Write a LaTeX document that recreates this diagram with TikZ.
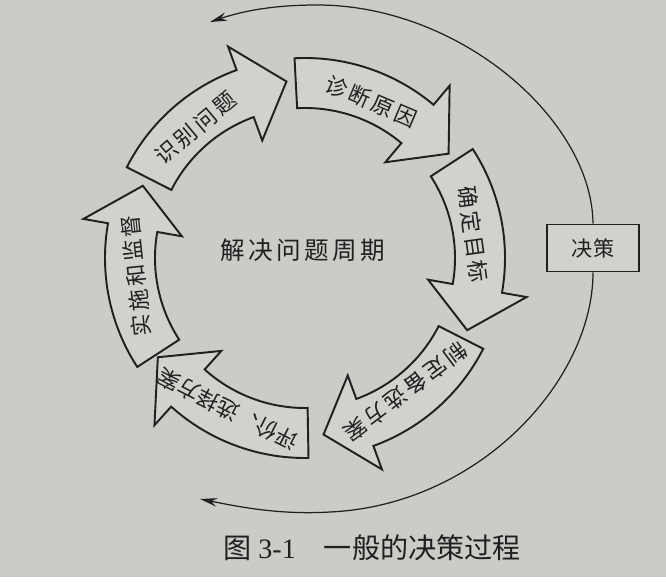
\documentclass[tikz,border=0pt]{standalone}
\usepackage{fontspec}
\setmainfont{Liberation Serif}
\newfontfamily\cjk{Noto Sans CJK SC}
\newfontfamily\cjkwide{Noto Sans CJK SC}[LetterSpace=14]
\usetikzlibrary{arrows.meta}

\definecolor{paper}{RGB}{203,203,200}
\definecolor{paperlight}{RGB}{209,209,206}
\definecolor{ink}{RGB}{32,32,32}

\begin{document}
\begin{tikzpicture}[
    ring/.style={draw=ink, line width=1.1pt, fill=paperlight, line join=miter},
    steplabel/.style={font=\cjkwide\fontsize{12.5}{14}\selectfont, text=ink, inner sep=0pt},
    decision/.style={rectangle, draw=ink, line width=1pt, fill=paperlight, minimum width=1.84cm, minimum height=0.94cm, font=\cjk\fontsize{12}{14}\selectfont, text=ink},
    backarrow/.style={-{Stealth[length=3.4mm, width=1.7mm]}, draw=ink, line width=0.7pt}
]

% --- Page ---
\fill[paper] (-6.1,-6.48) rectangle (7.22,5.16);
\fill[white] (-6.1,-6.48) rectangle (7.22,-6.38);
\useasboundingbox (-6.1,-6.48) rectangle (7.22,5.16);

% --- Cycle arrows ---

% Identify problem
\draw[ring] (153:4) arc[start angle=153, end angle=110, radius=4cm] -- (110:4.5) -- (96:3.55) -- (110:2.5) -- (110:3) arc[start angle=110, end angle=153, radius=3cm] -- cycle;
% Diagnose causes
\draw[ring] (93:4) arc[start angle=93, end angle=50, radius=4cm] -- (50:4.5) -- (36:3.55) -- (50:2.5) -- (50:3) arc[start angle=50, end angle=93, radius=3cm] -- cycle;
% Set objectives
\draw[ring] (33:4) arc[start angle=33, end angle=-10, radius=4cm] -- (-10:4.5) -- (-24:3.55) -- (-10:2.5) -- (-10:3) arc[start angle=-10, end angle=33, radius=3cm] -- cycle;
% Develop alternatives
\draw[ring] (-27:4) arc[start angle=-27, end angle=-70, radius=4cm] -- (-70:4.5) -- (-84:3.55) -- (-70:2.5) -- (-70:3) arc[start angle=-70, end angle=-27, radius=3cm] -- cycle;
% Evaluate and choose
\draw[ring] (-89:4) arc[start angle=-89, end angle=-132, radius=4cm] -- (-132:4.5) -- (-146:3.55) -- (-132:2.5) -- (-132:3) arc[start angle=-132, end angle=-89, radius=3cm] -- cycle;
% Implement and monitor
\draw[ring] (-147:4) arc[start angle=-147, end angle=-190, radius=4cm] -- (-190:4.5) -- (-204:3.55) -- (-190:2.5) -- (-190:3) arc[start angle=-190, end angle=-147, radius=3cm] -- cycle;

% --- Labels ---
\node[steplabel, rotate=40] (identify) at (130:3.4) {识别问题};
\node[steplabel, rotate=-23] (diagnose) at (67:3.4) {诊断原因};
\node[steplabel, rotate=-82] (objective) at (8:3.4) {确定目标};
\node[steplabel, rotate=-143] (alternative) at (-53:3.35) {制定备选方案};
\node[steplabel, rotate=153, font=\cjk\fontsize{12.5}{14}\selectfont] (evaluate) at (-117:3.4) {评价、选择方案};
\node[steplabel, rotate=96] (implement) at (-174:3.4) {实施和监督};

\node[font=\cjkwide\fontsize{14}{16}\selectfont, text=ink] (cycle) at (-0.05,0.16) {解决问题周期};

% --- Decision ---
\node[decision] (jue) at (5.76,0.2) {决策};
\coordinate (topend) at (-1.9,4.72);
\coordinate (bottomend) at (-2.1,-4.82);

\draw[backarrow] (jue.north) .. controls (5.74,2.76) and (3.1,5.06) .. (0.24,5.06)
    .. controls (-0.7,5.06) and (-1.3,4.92) .. (topend);
\draw[backarrow] (jue.south) .. controls (5.76,-2.44) and (3.5,-4.94) .. (0.5,-5.08)
    .. controls (-0.5,-5.14) and (-1.3,-4.98) .. (bottomend);

% --- Caption ---
\node[text=ink, font=\fontsize{16}{18}\selectfont] (caption) at (1.34,-5.8) {{\cjk 图} 3-1\quad{\cjk 一般的决策过程}};

\end{tikzpicture}
\end{document}
